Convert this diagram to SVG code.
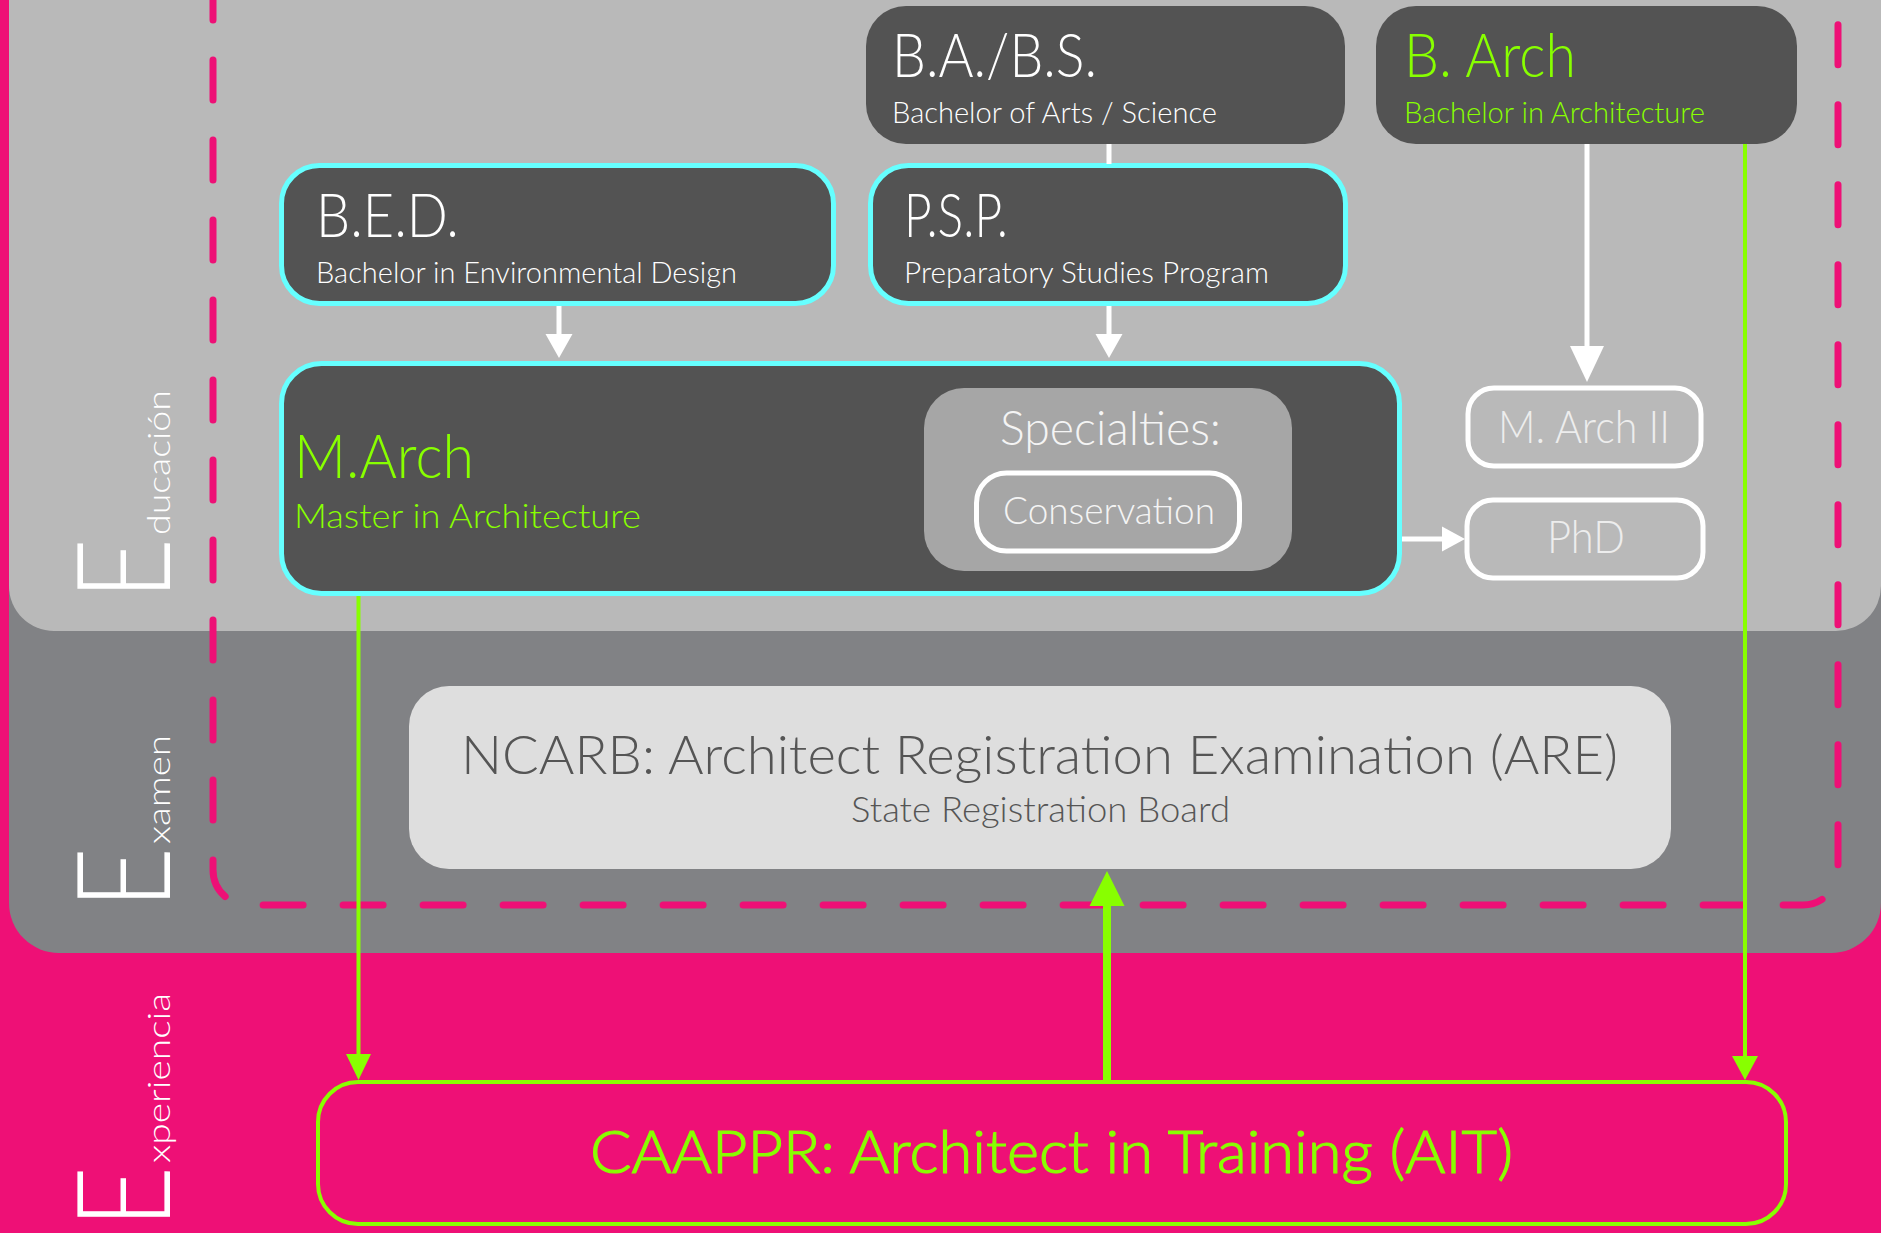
<svg xmlns="http://www.w3.org/2000/svg" width="1881" height="1233" viewBox="0 0 1881 1233">
<style>
.t{font-family:Lato,"Open Sans","Liberation Sans",sans-serif;font-weight:300}
.w{fill:#FFFFFF}
.g{fill:#88FF00}
.node{fill:#535353}
.cy{stroke:#66FFFF;stroke-width:5}
.wb{fill:none;stroke:#FFFFFF;stroke-width:5}
.title{font-size:61px}
.sub{font-size:30px}
.wl{stroke:#FFFFFF;stroke-width:5;fill:none}
.gl{stroke:#88FF00;stroke-width:4;fill:none}
.wa{fill:#FFFFFF}
.ga{fill:#88FF00}
.lab{fill:#FFFFFF}
.bigE{font-size:131px}
.lane{font-size:32px}
</style>
<rect x="0" y="0" width="1881" height="1233" fill="#EE1076"/>
<rect x="9" y="-100" width="1872" height="1053" rx="50" fill="#818285"/>
<rect x="9" y="-100" width="1872" height="731" rx="45" fill="#B9B9B9"/>
<path d="M213,-20 V870 A35,35 0 0 0 248,905 H1803 A35,35 0 0 0 1838,870 V-20" fill="none" stroke="#EE1076" stroke-width="7" stroke-linecap="round" stroke-dasharray="40 40"/>
<g id="lane-labels" class="t lab">
<text transform="translate(170,592) rotate(-90)" x="-8" class="bigE" textLength="62" lengthAdjust="spacingAndGlyphs">E</text>
<text transform="translate(170,592) rotate(-90)" x="57" class="lane" textLength="145" lengthAdjust="spacingAndGlyphs">ducación</text>
<text transform="translate(170,901) rotate(-90)" x="-8" class="bigE" textLength="62" lengthAdjust="spacingAndGlyphs">E</text>
<text transform="translate(170,901) rotate(-90)" x="57" class="lane" textLength="109" lengthAdjust="spacingAndGlyphs">xamen</text>
<text transform="translate(170,1220) rotate(-90)" x="-8" class="bigE" textLength="62" lengthAdjust="spacingAndGlyphs">E</text>
<text transform="translate(170,1220) rotate(-90)" x="57" class="lane" textLength="170" lengthAdjust="spacingAndGlyphs">xperiencia</text>
</g>
<g id="babs">
<rect x="866" y="6" width="479" height="138" rx="40" class="node"/>
<text x="892" y="77" class="t w title" textLength="205" lengthAdjust="spacingAndGlyphs">B.A./B.S.</text>
<text x="892" y="123" class="t w sub" textLength="325" lengthAdjust="spacingAndGlyphs">Bachelor of Arts / Science</text>
</g>
<g id="barch">
<rect x="1376" y="6" width="421" height="138" rx="40" class="node"/>
<text x="1404" y="77" class="t g title" textLength="172" lengthAdjust="spacingAndGlyphs">B. Arch</text>
<text x="1404" y="123" class="t g sub" textLength="301" lengthAdjust="spacingAndGlyphs">Bachelor in Architecture</text>
</g>
<g id="bed">
<rect x="281.5" y="165.5" width="552" height="138" rx="38" class="node cy"/>
<text x="316" y="237" class="t w title" textLength="143" lengthAdjust="spacingAndGlyphs">B.E.D.</text>
<text x="316" y="283" class="t w sub" textLength="421" lengthAdjust="spacingAndGlyphs">Bachelor in Environmental Design</text>
</g>
<g id="psp">
<rect x="870.5" y="165.5" width="475" height="138" rx="38" class="node cy"/>
<text x="904" y="237" class="t w title" textLength="104" lengthAdjust="spacingAndGlyphs">P.S.P.</text>
<text x="904" y="283" class="t w sub" textLength="365" lengthAdjust="spacingAndGlyphs">Preparatory Studies Program</text>
</g>
<g id="march">
<rect x="281.5" y="363.5" width="1118" height="230" rx="40" class="node cy"/>
<text x="294" y="478" class="t g title" textLength="180" lengthAdjust="spacingAndGlyphs">M.Arch</text>
<text x="294" y="528" class="t g" font-size="33" textLength="347" lengthAdjust="spacingAndGlyphs">Master in Architecture</text>
</g>
<g id="specialties">
<rect x="924" y="388" width="368" height="183" rx="40" fill="#A6A6A6"/>
<text x="1000" y="445" class="t" fill="#F4F4F4" font-size="48" textLength="221" lengthAdjust="spacingAndGlyphs">Specialties:</text>
</g>
<g id="conservation">
<rect x="976.5" y="473" width="263" height="78" rx="30" fill="#A6A6A6" stroke="#FFFFFF" stroke-width="5"/>
<text x="1003" y="524" class="t" fill="#F4F4F4" font-size="38" textLength="212" lengthAdjust="spacingAndGlyphs">Conservation</text>
</g>
<g id="march2">
<rect x="1468" y="388" width="233" height="78" rx="26" class="wb"/>
<text x="1498" y="443" class="t" fill="#EDEDED" font-size="46" textLength="172" lengthAdjust="spacingAndGlyphs">M. Arch II</text>
</g>
<g id="phd">
<rect x="1467" y="500" width="236" height="78" rx="26" class="wb"/>
<text x="1547" y="553" class="t" fill="#EDEDED" font-size="46" textLength="78" lengthAdjust="spacingAndGlyphs">PhD</text>
</g>
<g id="ncarb">
<rect x="409" y="686" width="1262" height="183" rx="40" fill="#DEDEDE"/>
<text x="461" y="774" class="t" fill="#555555" font-size="54" textLength="1157" lengthAdjust="spacingAndGlyphs">NCARB: Architect Registration Examination (ARE)</text>
<text x="851" y="822" class="t" fill="#555555" font-size="36" textLength="379" lengthAdjust="spacingAndGlyphs">State Registration Board</text>
</g>
<g id="caappr">
<rect x="318" y="1082" width="1468" height="142" rx="40" fill="none" stroke="#88FF00" stroke-width="4"/>
<text x="590" y="1173" class="t g" font-weight="400" stroke="#88FF00" stroke-width="1.2" font-size="59" textLength="923" lengthAdjust="spacingAndGlyphs">CAAPPR: Architect in Training (AIT)</text>
</g>
<g id="connectors">
<line x1="1109" y1="144" x2="1109" y2="164" class="wl"/>
<line x1="559" y1="306" x2="559" y2="336" class="wl"/>
<polygon points="545.5,334 572.5,334 559,358" class="wa"/>
<line x1="1109" y1="306" x2="1109" y2="336" class="wl"/>
<polygon points="1095.5,334 1122.5,334 1109,358" class="wa"/>
<line x1="1587" y1="144" x2="1587" y2="348" class="wl" stroke-width="7"/>
<polygon points="1570,346 1604,346 1587,382" class="wa"/>
<line x1="1402" y1="539" x2="1444" y2="539" class="wl"/>
<polygon points="1442,526.5 1442,551.5 1465,539" class="wa"/>
<line x1="358.5" y1="596" x2="358.5" y2="1056" class="gl"/>
<polygon points="346,1054 371,1054 358.5,1080" class="ga"/>
<line x1="1745" y1="144" x2="1745" y2="1058" class="gl"/>
<polygon points="1732,1056 1758,1056 1745,1080" class="ga"/>
<line x1="1107" y1="1082" x2="1107" y2="904" stroke="#88FF00" stroke-width="8"/>
<polygon points="1089.5,906 1124.5,906 1107,871" class="ga"/>
</g>
</svg>
